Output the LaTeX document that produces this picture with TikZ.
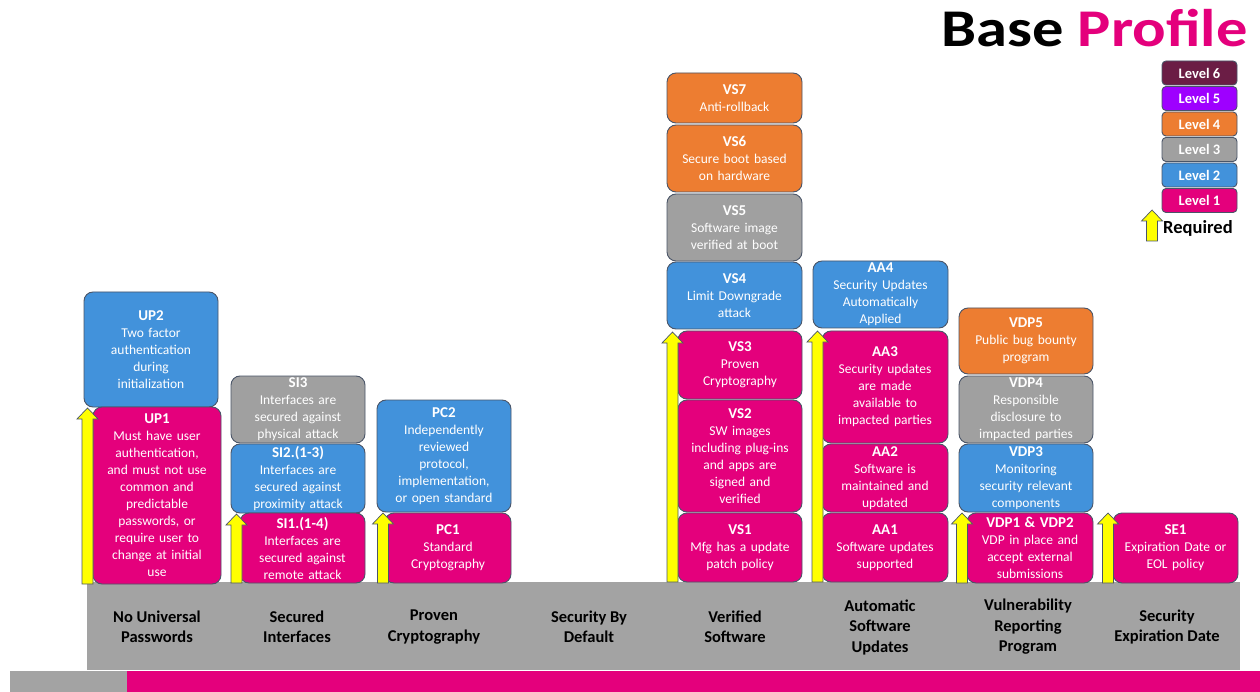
\documentclass[tikz,border=0pt]{standalone}
\usepackage{fontspec}
\setmainfont{Carlito}
\definecolor{lvA}{HTML}{E4007C}
\definecolor{lvB}{HTML}{4292DB}
\definecolor{lvC}{HTML}{A0A0A0}
\definecolor{lvD}{HTML}{ED7D31}
\definecolor{lvE}{HTML}{9E00FF}
\definecolor{lvF}{HTML}{6B1D45}
\definecolor{bordc}{HTML}{4A5568}
\definecolor{bandc}{HTML}{A3A3A3}
\definecolor{yelc}{HTML}{FFFF00}
\newcommand\blk[8]{%
  \node[blk, fill=#6, minimum width={(#4-#2)*1pt}, minimum height={(#5-#3)*1pt}, text width={(#4-#2-6)*1pt}]
    (#1) at ({(#2+#4)/2},{(#3+#5)/2}) {{\titlefont #7}\\#8};}
\newcommand\titlefont{\fontsize{15}{17}\selectfont\bfseries}
\newcommand\yarr[3]{%
  \draw[yarrow] (#1-5.5,#3) -- (#1-5.5,#2+11) -- (#1-10.5,#2+11) -- (#1,#2)
    -- (#1+10.5,#2+11) -- (#1+5.5,#2+11) -- (#1+5.5,#3) -- cycle;}
\begin{document}
\begin{tikzpicture}[x=1pt,y=-1pt,
  blk/.style={draw=bordc, line width=0.9pt, rounded corners=9pt, text=white, align=center,
    font=\fontsize{13.5}{17}\selectfont, inner sep=0pt},
  lgd/.style={draw=bordc, line width=0.9pt, rounded corners=4pt, text=white, align=center,
    font=\fontsize{14.5}{16}\selectfont\bfseries, inner sep=0pt, minimum width=75pt, minimum height=24pt},
  pillar/.style={align=center, text=black, font=\fontsize{16.5}{20.5}\selectfont\bfseries, inner sep=0pt},
  yarrow/.style={fill=yelc, draw=bordc, line width=0.7pt, line join=miter}]
\useasboundingbox (0,0) rectangle (1260,692);
\fill[white] (0,0) rectangle (1260,692);

% title
\node[anchor=base east, inner sep=0pt, font=\fontsize{53}{53}\selectfont\bfseries] (title) at (1248,47)
  {\scalebox{1.18}[1]{Base \textcolor{lvA}{Profile}}};

% legend
\node[lgd, fill=lvF] (l6) at (1199.5,73) {Level 6};
\node[lgd, fill=lvE] (l5) at (1199.5,98.5) {Level 5};
\node[lgd, fill=lvD] (l4) at (1199.5,124) {Level 4};
\node[lgd, fill=lvC] (l3) at (1199.5,149.5) {Level 3};
\node[lgd, fill=lvB] (l2) at (1199.5,175) {Level 2};
\node[lgd, fill=lvA] (l1) at (1199.5,200.5) {Level 1};
\yarr{1152}{210}{241}
\node[anchor=west, inner sep=0pt, font=\fontsize{18.5}{18.5}\selectfont\bfseries] (req) at (1163,228) {Required};

% band
\fill[bandc] (87,582) rectangle (1240,670);
\fill[bandc] (10,671) rectangle (127,692);
\fill[lvA] (127,671) rectangle (1260,692);

% column 1
\blk{up2}{84}{292}{218}{407}{lvB}{UP2}{Two factor\\authentication\\during\\initialization}
\blk{up1}{93}{407}{221}{584}{lvA}{UP1}{Must have user\\authentication,\\and must not use\\common and\\predictable\\passwords, or\\require user to\\change at initial\\use}
\yarr{87.5}{408}{584}

% column 2
\blk{si3}{231}{376}{365}{443}{lvC}{SI3}{Interfaces are\\secured against\\physical attack}
\blk{si2}{231}{444}{365}{513}{lvB}{SI2.(1-3)}{Interfaces are\\secured against\\proximity attack}
\blk{si1}{240}{513}{365}{583}{lvA}{SI1.(1-4)}{Interfaces are\\secured against\\remote attack}
\yarr{236.5}{514}{583}

% column 3
\blk{pc2}{377}{400}{511}{512}{lvB}{PC2}{Independently\\reviewed\\protocol,\\implementation,\\or open standard}
\blk{pc1}{385}{513}{511}{583}{lvA}{PC1}{Standard\\Cryptography}
\yarr{383}{513}{583}

% column 5
\blk{vs7}{667}{73}{802}{123}{lvD}{VS7}{Anti-rollback}
\blk{vs6}{667}{125}{802}{192}{lvD}{VS6}{Secure boot based\\on hardware}
\blk{vs5}{667}{194}{802}{261}{lvC}{VS5}{Software image\\verified at boot}
\blk{vs4}{667}{262}{802}{329}{lvB}{VS4}{Limit Downgrade\\attack}
\blk{vs3}{678}{331}{802}{399}{lvA}{VS3}{Proven\\Cryptography}
\blk{vs2}{678}{400}{802}{512}{lvA}{VS2}{SW images\\including plug-ins\\and apps are\\signed and\\verified}
\blk{vs1}{678}{513}{802}{582}{lvA}{VS1}{Mfg has a update\\patch policy}
\yarr{672.5}{332}{582}

% column 6
\blk{aa4}{813}{261}{948}{328}{lvB}{AA4}{Security Updates\\Automatically\\Applied}
\blk{aa3}{822}{331}{948}{443}{lvA}{AA3}{Security updates\\are made\\available to\\impacted parties}
\blk{aa2}{822}{444}{948}{512}{lvA}{AA2}{Software is\\maintained and\\updated}
\blk{aa1}{822}{513}{948}{582}{lvA}{AA1}{Software updates\\supported}
\yarr{817.5}{331}{582}

% column 7
\blk{vdp5}{959}{308}{1093}{374}{lvD}{VDP5}{Public bug bounty\\program}
\blk{vdp4}{959}{376}{1093}{443}{lvC}{VDP4}{Responsible\\disclosure to\\impacted parties}
\blk{vdp3}{959}{444}{1093}{512}{lvB}{VDP3}{Monitoring\\security relevant\\components}
\blk{vdp12}{967}{513}{1093}{583}{lvA}{VDP1 \& VDP2}{VDP in place and\\accept external\\submissions}
\yarr{962}{513}{583}

% column 8
\blk{se1}{1113}{513}{1238}{583}{lvA}{SE1}{Expiration Date or\\EOL policy}
\yarr{1108}{513}{583}

% pillar labels
\node[pillar] (p1) at (157,627) {No Universal\\Passwords};
\node[pillar] (p2) at (297,627) {Secured\\Interfaces};
\node[pillar] (p3) at (434,627) {Proven\\Cryptography};
\node[pillar] (p4) at (589,627) {Security By\\Default};
\node[pillar] (p5) at (735,627) {Verified\\Software};
\node[pillar] (p6) at (880,627) {Automatic\\Software\\Updates};
\node[pillar] (p7) at (1028,627) {Vulnerability\\Reporting\\Program};
\node[pillar] (p8) at (1167,627) {Security\\Expiration Date};
\end{tikzpicture}
\end{document}
